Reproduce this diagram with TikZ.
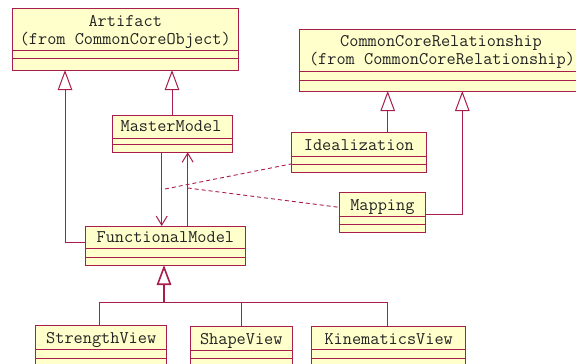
\documentclass[tikz,border=0pt]{standalone}
\usepackage{fontspec}
\usetikzlibrary{arrows.meta}
\definecolor{umlline}{RGB}{168,28,78}
\definecolor{umlfill}{RGB}{255,255,204}
\definecolor{umltext}{RGB}{35,35,35}
\tikzset{
  cls/.style={draw=umlline, fill=umlfill, line width=1pt, inner sep=0pt, outer sep=0pt, rectangle},
  lbl/.style={font=\ttfamily\fontsize{17.8}{18}\selectfont, text=umltext, inner sep=0pt, anchor=base},
  sep/.style={draw=umlline, line width=0.9pt},
  conn/.style={draw=umlline, line width=1pt},
  gen/.style={conn, -{Triangle[open, fill=white, length=20pt, width=14.5pt]}},
  nav/.style={conn, -{Straight Barb[length=9pt, width=11pt]}},
  anc/.style={draw=umlline, line width=0.9pt, dash pattern=on 4pt off 3pt},
}
\begin{document}
\begin{tikzpicture}[x=1pt, y=-1pt]
\useasboundingbox (0,0) rectangle (576,364);
% Artifact
\node[cls, minimum width=226.5pt, minimum height=62pt] (art) at (125.25,39) {};
\node[lbl] (artn) at (125.25,26) {Artifact};
\node[lbl] (artf) at (125.25,44) {(from CommonCoreObject)};
\draw[sep] (12,50) -- (238.5,50) (12,58.7) -- (238.5,58.7);
% CommonCoreRelationship
\node[cls, minimum width=286pt, minimum height=61.7pt] (ccr) at (442,60.15) {};
\node[lbl] (ccrn) at (441,46.7) {CommonCoreRelationship};
\node[lbl] (ccrf) at (442,64) {(from CommonCoreRelationship)};
\draw[sep] (299,71.7) -- (585,71.7) (299,80.3) -- (585,80.3);
% MasterModel
\node[cls, minimum width=120pt, minimum height=37pt] (mm) at (172.3,133.8) {};
\node[lbl] (mmn) at (171,131.7) {MasterModel};
\draw[sep] (112.3,138.3) -- (232.3,138.3) (112.3,144.7) -- (232.3,144.7);
% FunctionalModel
\node[cls, minimum width=159.3pt, minimum height=39pt] (fm) at (165.35,245.5) {};
\node[lbl] (fmn) at (165.35,242.7) {FunctionalModel};
\draw[sep] (85.7,248.3) -- (245,248.3) (85.7,257) -- (245,257);
% Idealization
\node[cls, minimum width=135.7pt, minimum height=40pt] (ide) at (358.85,152.7) {};
\node[lbl] (iden) at (358.85,150.7) {Idealization};
\draw[sep] (291,156.3) -- (426.7,156.3) (291,164.7) -- (426.7,164.7);
% Mapping
\node[cls, minimum width=86.7pt, minimum height=40pt] (map) at (382.35,212.7) {};
\node[lbl] (mapn) at (382.35,210) {Mapping};
\draw[sep] (339,216.7) -- (425.7,216.7) (339,224.7) -- (425.7,224.7);
% StrengthView
\node[cls, minimum width=131pt, minimum height=50pt] (sv) at (101.2,350) {};
\node[lbl] (svn) at (101.2,343) {StrengthView};
\draw[sep] (35.7,349.3) -- (166.7,349.3) (35.7,358) -- (166.7,358);
% ShapeView
\node[cls, minimum width=102pt, minimum height=49pt] (shv) at (241.3,350.8) {};
\node[lbl] (shvn) at (241.3,344) {ShapeView};
\draw[sep] (190.3,350) -- (292.3,350) (190.3,358.7) -- (292.3,358.7);
% KinematicsView
\node[cls, minimum width=154pt, minimum height=49pt] (kv) at (388.7,350.8) {};
\node[lbl] (kvn) at (388.7,344) {KinematicsView};
\draw[sep] (311.7,349.3) -- (465.7,349.3) (311.7,358.7) -- (465.7,358.7);

% generalizations
\draw[gen] (fm.west |- 0,242.7) -| (art.south -| 65,0);
\draw[gen] (mm.north -| 172,0) -- (art.south -| 172,0);
\draw[gen] (ide.north -| 387.7,0) -- (ccr.south -| 387.7,0);
\draw[gen] (map.east |- 0,214) -| (ccr.south -| 462.3,0);
\coordinate (hub) at (164,302.7);
\draw[gen, line width=1.6pt] (hub) -- (fm.south -| hub);
\draw[conn] (sv.north -| 99.3,0) |- (hub) -| (kv.north -| 387.3,0);
\draw[conn] (shv.north -| 241.7,0) -- (241.7,302.7);
% associations
\draw[nav] (mm.south -| 161.7,0) -- (fm.north -| 161.7,0);
\draw[nav] (fm.north -| 187.7,0) -- (mm.south -| 187.7,0);
% association class anchors
\coordinate (a1) at (165,189);
\coordinate (a2) at (187.7,188);
\draw[anc] (a1) -- (ide.west |- 0,164);
\draw[anc] (a2) -- (map.west |- 0,207.3);
\end{tikzpicture}
\end{document}
